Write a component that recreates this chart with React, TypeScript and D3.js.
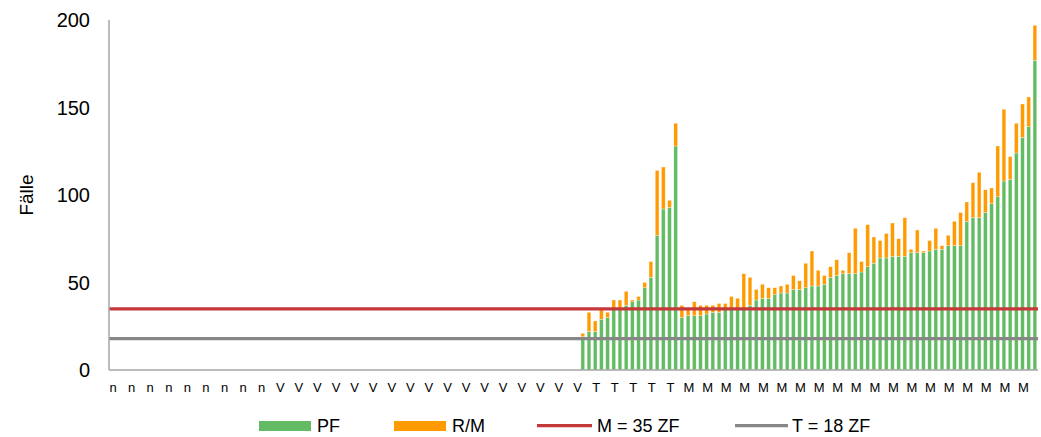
import React from 'react';
import * as d3 from 'd3';

// x tick labels (one label every 3 categories)
const tickLabels: string[] = [
  'n','n','n','n','n','n','n','n','n',
  'V','V','V','V','V','V','V','V','V','V','V','V','V','V','V','V','V',
  'T','T','T','T','T',
  'M','M','M','M','M','M','M','M','M','M','M','M','M','M','M','M','M','M','M',
];
const categories: string[] = tickLabels.flatMap((l) => [l, l, l]);
const firstDataIndex = 76;

// PF (green) values
const pfValues: number[] = [
  19, 22, 22, 29, 30, 35, 35, 37, 39, 40, 47, 53, 77, 92, 93, 128,
  30, 31, 31, 31, 32, 33, 33, 35, 35, 35, 35, 37, 40, 41, 41, 43, 44, 44, 46, 46,
  47, 48, 48, 49, 53, 54, 55, 55, 55, 56, 59, 61, 64, 64, 65, 65, 65, 67, 67, 67,
  68, 69, 69, 71, 71, 71, 85, 87, 87, 90, 95, 99, 108, 109, 124, 133, 139, 177,
];
// R/M (orange) values
const rmValues: number[] = [
  2, 11, 6, 6, 3, 5, 5, 8, 1, 2, 3, 9, 37, 24, 4, 13,
  7, 4, 8, 6, 5, 4, 5, 3, 7, 6, 20, 16, 6, 8, 6, 4, 4, 5, 8, 5,
  14, 20, 9, 5, 6, 9, 2, 12, 26, 6, 24, 15, 10, 14, 19, 10, 22, 2, 13, 1,
  6, 12, 2, 6, 14, 19, 11, 20, 26, 13, 9, 29, 41, 13, 17, 19, 17, 20,
];
const yTicks: number[] = [0, 50, 100, 150, 200];
const mThreshold = 35;
const tThreshold = 18;
const legendLabels = ['PF', 'R/M', 'M = 35 ZF', 'T = 18 ZF'];

const GREEN = '#63BB63';
const ORANGE = '#FF9A00';
const RED = '#C4393A';
const GRAY = '#878787';
const AXIS = '#A6A6A6';
const FONT = 'Liberation Sans, Arial, sans-serif';

export default function App() {
  const W = 1041;
  const H = 437;
  const left = 109;
  const right = 1038;
  const top = 20;
  const bottom = 370;

  const x = d3
    .scaleBand<number>()
    .domain(categories.map((_, i) => i))
    .range([left, right])
    .paddingInner(0.4)
    .paddingOuter(0.2);
  const y = d3.scaleLinear().domain([0, 200]).range([bottom, top]);

  const bars = pfValues.map((pf, k) => {
    const idx = firstDataIndex + k;
    return { idx, pf, rm: rmValues[k] };
  });

  const step = x.step();

  return (
    <svg
      width={W}
      height={H}
      style={{ position: 'absolute', left: 0, top: 0, background: '#fff' }}
      fontFamily={FONT}
    >
      <rect x={0} y={0} width={W} height={H} fill="#fff" />
      {/* bars */}
      {bars.map((b) => {
        const bx = x(b.idx)!;
        const bw = x.bandwidth();
        return (
          <g key={b.idx}>
            <rect
              x={bx}
              y={y(b.pf)}
              width={bw}
              height={y(0) - y(b.pf)}
              fill={GREEN}
              stroke="#fff"
              strokeOpacity={0.6}
              strokeWidth={0.5}
            />
            <rect
              x={bx}
              y={y(b.pf + b.rm)}
              width={bw}
              height={y(b.pf) - y(b.pf + b.rm)}
              fill={ORANGE}
              stroke="#fff"
              strokeOpacity={0.6}
              strokeWidth={0.5}
            />
          </g>
        );
      })}
      {/* threshold lines */}
      <line x1={left} x2={right} y1={y(mThreshold)} y2={y(mThreshold)} stroke={RED} strokeWidth={3.25} />
      <line x1={left} x2={right} y1={y(tThreshold)} y2={y(tThreshold)} stroke={GRAY} strokeWidth={3.25} />
      {/* axes */}
      <line x1={left} x2={left} y1={top} y2={bottom} stroke={AXIS} strokeWidth={1.5} />
      <line x1={left} x2={right} y1={bottom} y2={bottom} stroke={AXIS} strokeWidth={1.5} />
      {yTicks.map((t) => (
        <text key={t} x={90} y={y(t)} dy="0.36em" textAnchor="end" fontSize={20} fill="#000">
          {t}
        </text>
      ))}
      {tickLabels.map((l, i) => (
        <text
          key={i}
          x={x(i * 3)! + x.bandwidth() / 2 + step * 0.15}
          y={392}
          textAnchor="middle"
          fontSize={13}
          fill="#000"
        >
          {l}
        </text>
      ))}
      <text
        transform={`translate(33, ${(top + bottom) / 2}) rotate(-90)`}
        textAnchor="middle"
        fontSize={19}
        fill="#000"
      >
        Fälle
      </text>
      {/* legend */}
      <rect x={259} y={421} width={52} height={10} fill={GREEN} />
      <text x={317} y={432} fontSize={18} fill="#000">{legendLabels[0]}</text>
      <rect x={394} y={421} width={52} height={10} fill={ORANGE} />
      <text x={452} y={432} fontSize={18} fill="#000">{legendLabels[1]}</text>
      <line x1={537} x2={592} y1={425.5} y2={425.5} stroke={RED} strokeWidth={3.25} />
      <text x={597} y={432} fontSize={18} fill="#000">{legendLabels[2]}</text>
      <line x1={735} x2={788} y1={425.5} y2={425.5} stroke={GRAY} strokeWidth={3.25} />
      <text x={792} y={432} fontSize={18} fill="#000">{legendLabels[3]}</text>
    </svg>
  );
}
